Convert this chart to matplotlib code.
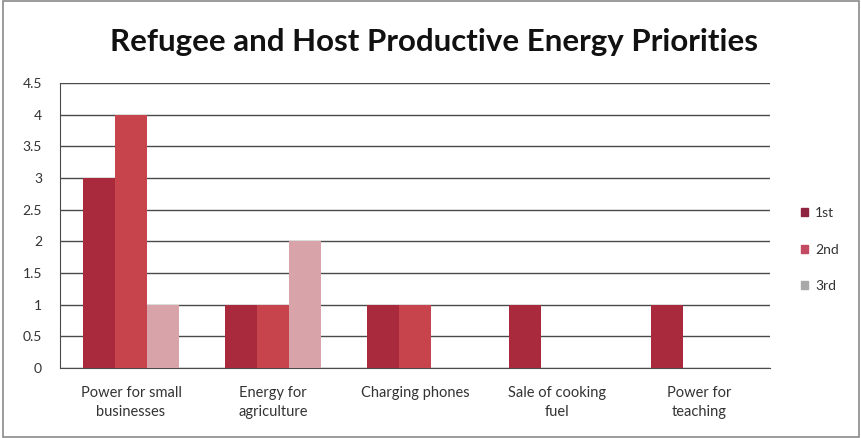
import matplotlib
matplotlib.use("Agg")
import matplotlib.pyplot as plt
import numpy as np

categories = ["Power for small\nbusinesses", "Energy for\nagriculture", "Charging phones",
              "Sale of cooking\nfuel", "Power for\nteaching"]
series_names = ["1st", "2nd", "3rd"]
first = [3, 1, 1, 1, 1]
second = [4, 1, 1, 0, 0]
third = [1, 2, 0, 0, 0]
yticks = [0, 0.5, 1, 1.5, 2, 2.5, 3, 3.5, 4, 4.5]

bar_colors = ["#A82A3C", "#C8444C", "#D9A3AA"]
legend_colors = ["#8E2440", "#C24A63", "#A8A8A8"]

plt.rcParams['font.family'] = ['Lato', 'DejaVu Sans']

fig = plt.figure(figsize=(8.62, 4.38), dpi=100)
fig.patch.set_facecolor("white")
border = plt.Rectangle((0.003, 0.003), 0.994, 0.994, transform=fig.transFigure,
                       fill=False, edgecolor="#8A8A8A", linewidth=1.2)
fig.patches.append(border)

ax = fig.add_axes([0.0696, 0.1598, 0.8237, 0.6507])
x = np.arange(len(categories))
w = 0.225
for i, (vals, c) in enumerate(zip([first, second, third], bar_colors)):
    ax.bar(x + (i - 1) * w, vals, width=w, color=c, edgecolor="none", zorder=3)

ax.set_xlim(-0.5, len(categories) - 0.5)
ax.set_ylim(0, 4.5)
ax.set_yticks(yticks)
ax.set_yticklabels([f"{t:g}" for t in yticks], fontsize=10, color="#333333")
ax.yaxis.grid(True, color="#4A4A4A", linewidth=1.0, zorder=0)
ax.set_xticks(x)
ax.set_xticklabels(categories, fontsize=10.5, color="#333333", linespacing=1.45)
ax.tick_params(axis='y', length=0, pad=13)
ax.tick_params(axis='x', length=0, pad=13)
for s in ["top", "right"]:
    ax.spines[s].set_visible(False)
ax.spines["left"].set_color("#4A4A4A")
ax.spines["bottom"].set_color("#4A4A4A")

fig.text(0.503, 0.905, "Refugee and Host Productive Energy Priorities",
         ha="center", va="center", fontsize=22.5, fontweight="bold", color="#111111")

handles = [plt.Rectangle((0, 0), 1, 1, color=c) for c in legend_colors]
fig.legend(handles, series_names, loc="center left", bbox_to_anchor=(0.915, 0.43),
           frameon=False, fontsize=10, handlelength=0.5, handleheight=0.5,
           labelspacing=1.75, handletextpad=0.5, labelcolor="#333333")

fig.savefig("out.png", dpi=100, facecolor="white")
